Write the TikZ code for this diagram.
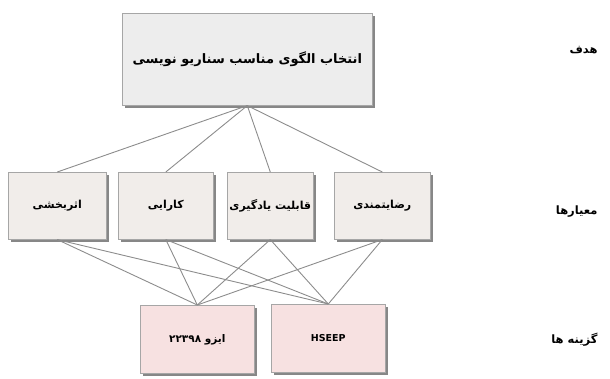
\documentclass[tikz,border=0pt]{standalone}
\usepackage{fontspec}
\usetikzlibrary{shadows}
\TeXXeTstate=1
\newfontfamily\arabicfont[Script=Arabic]{DejaVu Sans}
\definecolor{goalfill}{HTML}{EDEDED}
\definecolor{critfill}{HTML}{F1EDEA}
\definecolor{altfill}{HTML}{F7E1E1}
\definecolor{edgecol}{HTML}{8C8C8C}
\definecolor{shadowcol}{HTML}{7A7A7A}
\tikzset{
  box/.style={draw=gray!70, line width=0.6pt, anchor=north west, inner sep=0pt,
    font=\arabicfont\bfseries, text=black,
    drop shadow={shadow xshift=2.5pt, shadow yshift=-2.5pt, fill=shadowcol, opacity=0.9}},
  goalbox/.style={box, fill=goalfill, font=\arabicfont\bfseries\fontsize{13}{15}\selectfont},
  critbox/.style={box, fill=critfill, font=\arabicfont\bfseries\fontsize{11}{13}\selectfont},
  altbox/.style={box, fill=altfill, font=\arabicfont\bfseries\fontsize{9.5}{11}\selectfont},
  levellabel/.style={font=\arabicfont\bfseries\fontsize{11.5}{13}\selectfont},
  link/.style={draw=edgecol, line width=0.9pt}
}
\begin{document}
\begin{tikzpicture}[x=1pt,y=-1pt]
\useasboundingbox (0,0) rectangle (610,378);
% goal
\node[goalbox, minimum width=250pt, minimum height=92pt] (goal) at (122,13)
  {\beginR انتخاب الگوی مناسب سناریو نویسی\endR};
% criteria
\node[critbox, minimum width=98pt, minimum height=67pt] (c1) at (8,172) {\beginR اثربخشی\endR};
\node[critbox, minimum width=95pt, minimum height=67pt] (c2) at (118,172) {\beginR کارایی\endR};
\node[critbox, minimum width=86pt, minimum height=67pt] (c3) at (227,172) {\beginR قابلیت یادگیری\endR};
\node[critbox, minimum width=96pt, minimum height=67pt] (c4) at (334,172) {\beginR رضایتمندی\endR};
% alternatives
\node[altbox, minimum width=114pt, minimum height=68pt, font=\arabicfont\bfseries\fontsize{10.5}{12}\selectfont] (a1) at (140,305) {\beginR ایزو \beginL ۲۲۳۹۸\endL\endR};
\node[altbox, minimum width=114pt, minimum height=68pt] (a2) at (271,304) {HSEEP};
% level labels
\node[levellabel, anchor=east] (l1) at (601,50) {\beginR هدف\endR};
\node[levellabel, anchor=east] (l2) at (601,212) {\beginR معیارها\endR};
\node[levellabel, anchor=east] (l3) at (601,340) {\beginR گزینه ها\endR};
% links goal -> criteria
\foreach \c in {c1,c2,c3,c4}{
  \draw[link] (goal.south) -- (\c.north);
}
% links criteria -> alternatives
\foreach \c in {c1,c2,c3,c4}{
  \draw[link] (\c.south) -- (a1.north);
  \draw[link] (\c.south) -- (a2.north);
}
\end{tikzpicture}
\end{document}
